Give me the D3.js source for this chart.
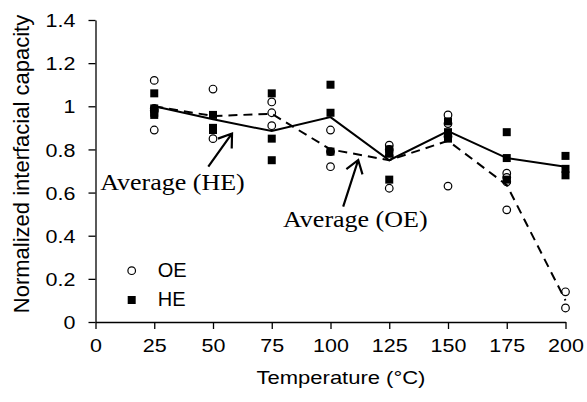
<!DOCTYPE html>
<html>
<head>
<meta charset="utf-8">
<script src="https://cdn.jsdelivr.net/npm/d3@7"></script>
<style>
  body { margin: 0; background: #fff; }
  text { fill: #000; }
</style>
</head>
<body>
<div id="chart"></div>
<script>
// temperatures and the individual measurements at each one
var temps = [25, 50, 75, 100, 125, 150, 175, 200];

var oeValues = [
    [1.12, 0.99, 0.98, 0.89],
    [1.08, 0.85],
    [1.02, 0.97, 0.91],
    [0.89, 0.79, 0.72],
    [0.82, 0.80, 0.77, 0.62],
    [0.96, 0.92, 0.86, 0.63],
    [0.69, 0.67, 0.65, 0.52],
    [0.14, 0.065]
];

var heValues = [
    [1.06, 0.99, 0.97, 0.96],
    [0.96, 0.90, 0.89],
    [1.06, 0.85, 0.75],
    [1.10, 0.97, 0.79],
    [0.80, 0.78, 0.66],
    [0.93, 0.88, 0.85],
    [0.88, 0.76, 0.66],
    [0.77, 0.71, 0.68]
];

// average lines
var heAvg = [1.00, 0.94, 0.885, 0.95, 0.75, 0.885, 0.76, 0.72];
var oeAvg = [1.00, 0.955, 0.965, 0.80, 0.75, 0.84, 0.635, 0.10];

var xTicks = [0, 25, 50, 75, 100, 125, 150, 175, 200];
var yTicks = [0, 0.2, 0.4, 0.6, 0.8, 1, 1.2, 1.4];
var yTickLabels = ["0", "0.2", "0.4", "0.6", "0.8", "1", "1.2", "1.4"];

var width = 587, height = 402;
var margin = { top: 20, right: 21.5, bottom: 80, left: 95.5 };
var sans = "'Liberation Sans', Arial, sans-serif";
var serif = "'Liberation Serif', 'Times New Roman', serif";
var squash = 0.83;

var svg = d3.select("#chart").append("svg")
    .attr("width", width)
    .attr("height", height)
    .style("display", "block");

var x = d3.scaleLinear()
    .domain([0, 200])
    .range([margin.left, width - margin.right]);
var y = d3.scaleLinear()
    .domain([0, 1.4])
    .range([height - margin.bottom, margin.top]);

// axes
var xAxis = svg.append("g")
    .attr("transform", "translate(0," + y(0) + ")")
    .call(d3.axisBottom(x).tickValues(xTicks).tickSize(7).tickSizeOuter(0));
var yAxis = svg.append("g")
    .attr("transform", "translate(" + x(0) + ",0)")
    .call(d3.axisLeft(y).tickValues(yTicks).tickSize(7).tickSizeOuter(0)
        .tickFormat(function (d, i) { return yTickLabels[i]; }));

[xAxis, yAxis].forEach(function (a) {
    a.select(".domain").attr("stroke", "#000").attr("stroke-width", 1.3);
    a.selectAll(".tick line").attr("stroke", "#000").attr("stroke-width", 1.3);
    a.selectAll(".tick text")
        .attr("font-family", sans)
        .attr("font-size", 21.5)
        .attr("fill", "#000");
});
xAxis.selectAll(".tick text")
    .attr("y", null).attr("dy", null)
    .attr("transform", "translate(0,30) scale(1," + squash + ")");
yAxis.selectAll(".tick text")
    .attr("x", null).attr("dy", null)
    .attr("text-anchor", "end")
    .attr("transform", "translate(-20,6.7) scale(1," + squash + ")");

// axis titles
svg.append("text")
    .attr("transform", "translate(341,384) scale(1," + squash + ")")
    .attr("text-anchor", "middle")
    .attr("font-family", sans)
    .attr("font-size", 22)
    .text("Temperature (°C)");

svg.append("text")
    .attr("transform", "translate(28.5,164) rotate(-90)")
    .attr("text-anchor", "middle")
    .attr("font-family", sans)
    .attr("font-size", 22)
    .text("Normalized interfacial capacity");

// flatten the measurements into points
function flat(values) {
    var pts = [];
    values.forEach(function (vals, i) {
        vals.forEach(function (v) { pts.push({ t: temps[i], v: v }); });
    });
    return pts;
}

svg.append("g").selectAll("circle")
    .data(flat(oeValues))
    .join("circle")
    .attr("cx", function (d) { return x(d.t); })
    .attr("cy", function (d) { return y(d.v); })
    .attr("r", 3.8)
    .attr("fill", "#fff")
    .attr("stroke", "#000")
    .attr("stroke-width", 1.2);

var sq = 8;
svg.append("g").selectAll("rect")
    .data(flat(heValues))
    .join("rect")
    .attr("x", function (d) { return x(d.t) - sq / 2; })
    .attr("y", function (d) { return y(d.v) - sq / 2; })
    .attr("width", sq)
    .attr("height", sq)
    .attr("fill", "#000");

// average lines
var line = d3.line()
    .x(function (d, i) { return x(temps[i]); })
    .y(function (d) { return y(d); });

svg.append("path")
    .datum(heAvg)
    .attr("d", line)
    .attr("fill", "none")
    .attr("stroke", "#000")
    .attr("stroke-width", 2);

svg.append("path")
    .datum(oeAvg)
    .attr("d", line)
    .attr("fill", "none")
    .attr("stroke", "#000")
    .attr("stroke-width", 2)
    .attr("stroke-dasharray", "9,6");

// annotations (in data units)
var notes = [
    { label: "Average (HE)", tx: 2, tv: 0.612, from: [48.0, 0.72], to: [58.1, 0.874] },
    { label: "Average (OE)", tx: 79.8, tv: 0.44, from: [105.4, 0.535], to: [111.8, 0.751] }
];

notes.forEach(function (n) {
    svg.append("text")
        .attr("transform", "translate(" + x(n.tx) + "," + y(n.tv) + ") scale(1,0.92)")
        .attr("font-family", serif)
        .attr("font-size", 26)
        .text(n.label);

    var x1 = x(n.from[0]), y1 = y(n.from[1]);
    var x2 = x(n.to[0]), y2 = y(n.to[1]);
    var ang = Math.atan2(y1 - y2, x1 - x2);
    var len = 15, spread = 0.6;
    var path = d3.path();
    path.moveTo(x1, y1);
    path.lineTo(x2, y2);
    path.moveTo(x2 + len * Math.cos(ang + spread), y2 + len * Math.sin(ang + spread));
    path.lineTo(x2, y2);
    path.lineTo(x2 + len * Math.cos(ang - spread), y2 + len * Math.sin(ang - spread));
    svg.append("path")
        .attr("d", path.toString())
        .attr("fill", "none")
        .attr("stroke", "#000")
        .attr("stroke-width", 2.2);
});

// legend
var legend = svg.append("g");
legend.append("circle")
    .attr("cx", 131.7).attr("cy", 270.7).attr("r", 3.8)
    .attr("fill", "#fff").attr("stroke", "#000").attr("stroke-width", 1.2);
legend.append("rect")
    .attr("x", 131.7 - sq / 2).attr("y", 300 - sq / 2)
    .attr("width", sq).attr("height", sq).attr("fill", "#000");
legend.append("text")
    .attr("x", 157.7).attr("y", 276.7)
    .attr("font-family", sans).attr("font-size", 20)
    .text("OE");
legend.append("text")
    .attr("x", 157.7).attr("y", 305.9)
    .attr("font-family", sans).attr("font-size", 20)
    .text("HE");
</script>
</body>
</html>
